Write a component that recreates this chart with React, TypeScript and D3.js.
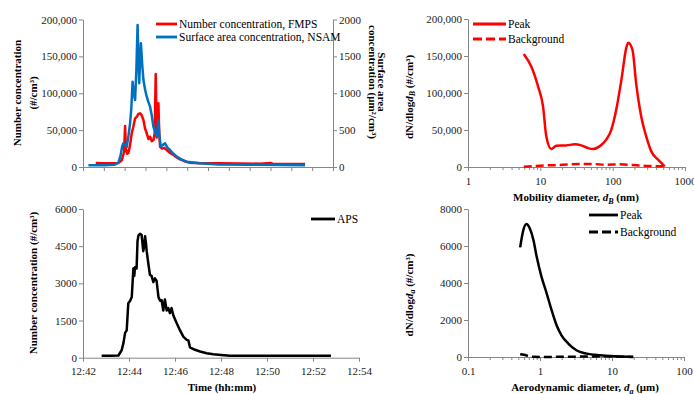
import React, { useEffect, useRef } from "react";
import * as d3 from "d3";

// time = minutes after 12:42
const fmpsTime = [0.61, 1.0, 1.4, 1.7, 1.86, 1.97, 2.02, 2.06, 2.12, 2.18, 2.26, 2.34, 2.42, 2.5, 2.58, 2.66, 2.74, 2.82, 2.9, 2.98, 3.06, 3.14, 3.22, 3.3, 3.38, 3.44, 3.49, 3.54, 3.58, 3.62, 3.66, 3.7, 3.8, 3.9, 4.02, 4.18, 4.34, 4.5, 4.66, 4.9, 5.14, 5.6, 6.5, 7.5, 8.5, 9.0, 9.1, 10.0, 10.66];
const fmpsNumber = [5400, 5000, 5200, 5500, 9000, 20000, 55600, 25000, 18000, 19000, 30000, 45700, 55000, 66000, 68000, 72000, 72800, 70000, 63700, 52000, 45700, 38000, 41100, 35000, 36600, 45000, 126100, 40000, 70000, 86400, 45000, 27500, 25000, 26000, 23000, 19000, 16300, 13000, 10400, 7500, 5800, 5000, 5000, 4800, 4500, 5500, 4500, 4200, 4000];

const nsamTime = [0.26, 1.0, 1.5, 1.7, 1.8, 1.88, 1.94, 2.02, 2.1, 2.18, 2.26, 2.32, 2.38, 2.44, 2.5, 2.56, 2.62, 2.66, 2.7, 2.74, 2.78, 2.84, 2.9, 2.98, 3.06, 3.14, 3.22, 3.3, 3.38, 3.46, 3.54, 3.58, 3.62, 3.66, 3.73, 3.84, 3.94, 4.06, 4.18, 4.34, 4.5, 4.74, 4.98, 5.3, 5.62, 6.5, 8.0, 9.5, 10.66];
const nsamSurface = [25, 25, 30, 60, 150, 280, 321, 300, 275, 420, 592, 800, 1157, 1000, 908, 1300, 1925, 1500, 1135, 1450, 1677, 1400, 1180, 1050, 953, 880, 818, 700, 546, 480, 411, 520, 637, 450, 275, 300, 321, 260, 230, 180, 140, 100, 72, 60, 50, 35, 30, 28, 25];

const apsTime = [0.81, 1.2, 1.54, 1.68, 1.76, 1.83, 1.9, 1.97, 2.05, 2.12, 2.19, 2.23, 2.26, 2.33, 2.37, 2.41, 2.48, 2.55, 2.62, 2.66, 2.7, 2.74, 2.77, 2.84, 2.91, 2.98, 3.06, 3.13, 3.2, 3.28, 3.35, 3.42, 3.49, 3.56, 3.64, 3.71, 3.78, 3.85, 3.93, 4.07, 4.22, 4.36, 4.51, 4.58, 4.65, 4.87, 5.09, 5.38, 5.67, 6.0, 6.39, 8.0, 10.78];
const apsNumber = [80, 80, 90, 300, 600, 1000, 1100, 2200, 2300, 2450, 3600, 3300, 3650, 3600, 4700, 4924, 5000, 4950, 4300, 4500, 4900, 4600, 4300, 3800, 3340, 3300, 3050, 3200, 3100, 2450, 2300, 2320, 1900, 2350, 1900, 2000, 1800, 2000, 1700, 1400, 1100, 850, 720, 700, 420, 320, 250, 180, 140, 110, 80, 80, 80];

const mobilityDiameter = [5.9, 7.5, 9.3, 10.9, 12.1, 14.2, 16.6, 22.8, 29.9, 36.8, 45.5, 53.4, 65.9, 81.5, 95.7, 112, 132, 155, 164, 188, 211, 248, 291, 342, 424, 497, 525];
const mobilityPeak = [152800, 135700, 108800, 81800, 41300, 24300, 28800, 29200, 30600, 29200, 25600, 24300, 27900, 36900, 50300, 77300, 117800, 162000, 168000, 158200, 113300, 68300, 41300, 21100, 9900, 3100, 900];
const mobilityBgDiameter = [5.9, 10, 18.5, 35, 53, 81, 125, 190, 325, 525];
const mobilityBackground = [200, 1800, 2700, 4000, 4000, 3100, 3600, 2700, 1300, 900];

const aeroDiameter = [0.53, 0.587, 0.65, 0.72, 0.81, 0.9, 1.05, 1.24, 1.45, 1.7, 1.99, 2.47, 3.2, 4.45, 6.8, 11.6, 19.7];
const aeroPeak = [5925, 6862, 7187, 6954, 6320, 5416, 4333, 3430, 2530, 1717, 1175, 726, 363, 184, 92, 38, 10];
const aeroBgDiameter = [0.53, 0.6, 0.7, 0.8, 1.0, 2.0, 5.0, 8.0, 12, 19.7];
const aeroBackground = [150, 120, 50, 10, 5, 10, 30, 40, 20, 5];

const numberTicks = [0, 50000, 100000, 150000, 200000];
const surfaceTicks = [0, 500, 1000, 1500, 2000];
const apsTicks = [0, 1500, 3000, 4500, 6000];
const aeroYTicks = [0, 2000, 4000, 6000, 8000];
const mobilityXTicks = [1, 10, 100, 1000];
const aeroXTicks = [0.1, 1, 10, 100];
const timeTicks = ["12:42", "12:44", "12:46", "12:48", "12:50", "12:52", "12:54"];

const font = "'Liberation Serif', serif";
const axisGrey = "#868686";

export default function App() {
    const ref = useRef<SVGSVGElement>(null);

    useEffect(() => {
        const svg = d3.select(ref.current);
        svg.selectAll("*").remove();

        const parseTime = d3.timeParse("%H:%M");
        const t0 = parseTime("12:42") as Date;
        const toDate = (m: number) => new Date(t0.getTime() + m * 60000);
        const timeDates = timeTicks.map(s => parseTime(s) as Date);

        const styleAxis = (g: any) => {
            g.attr("font-family", null).attr("font-size", null);
            g.style("font-family", font).style("font-size", "11px");
            g.select(".domain").attr("stroke", axisGrey);
            g.selectAll(".tick line").attr("stroke", axisGrey);
            g.selectAll(".tick text").attr("fill", "#1a1a1a");
        };

        const logMinors = (lo: number, hi: number) => {
            const out: number[] = [];
            for (let dec = lo; dec < hi; dec *= 10) {
                for (let k = 2; k <= 9; k++) out.push(dec * k);
            }
            return out;
        };

        const boldText = (sel: any) => sel
            .style("font-family", font).style("font-weight", "bold").style("font-size", "11px");

        const rotTitle = (x: number, y: number, angle: number, lines: string[], gap: number) => {
            lines.forEach((s, i) => {
                const dx = angle < 0 ? x + i * gap : x - i * gap;
                svg.append("text")
                    .attr("transform", `translate(${dx},${y}) rotate(${angle})`)
                    .attr("text-anchor", "middle")
                    .attr("dominant-baseline", "central")
                    .call(boldText)
                    .text(s);
            });
        };

        const legendItem = (x1: number, x2: number, y: number, color: string, dash: string | null, label: string) => {
            svg.append("line")
                .attr("x1", x1).attr("x2", x2).attr("y1", y).attr("y2", y)
                .attr("stroke", color).attr("stroke-width", 2.8)
                .attr("stroke-dasharray", dash);
            svg.append("text")
                .attr("x", x2 + 2).attr("y", y + 4)
                .style("font-family", font).style("font-size", "11.5px")
                .text(label);
        };

        // ---------- panel 1: time series FMPS / NSAM ----------
        const x1 = d3.scaleTime().domain([timeDates[0], timeDates[6]]).range([83, 333]);
        const y1 = d3.scaleLinear().domain([0, 200000]).range([167, 19.5]);
        const y1r = d3.scaleLinear().domain([0, 2000]).range([167, 19.5]);

        svg.append("g").attr("transform", "translate(0,167)")
            .call(d3.axisBottom(x1).tickValues(d3.range(0, 13).map(toDate)).tickFormat(() => "").tickSize(4).tickSizeOuter(0))
            .call(styleAxis);
        svg.append("g").attr("transform", "translate(83,0)")
            .call(d3.axisLeft(y1).tickValues(numberTicks).tickFormat(d3.format(",")).tickSize(4).tickPadding(2).tickSizeOuter(0))
            .call(styleAxis);
        svg.append("g").attr("transform", "translate(333,0)")
            .call(d3.axisRight(y1r).tickValues(surfaceTicks).tickFormat(d3.format("d")).tickSize(4).tickPadding(2).tickSizeOuter(0))
            .call(styleAxis);

        const fmpsLine = d3.line<[number, number]>().x(d => x1(toDate(d[0]))).y(d => y1(d[1]));
        const nsamLine = d3.line<[number, number]>().x(d => x1(toDate(d[0]))).y(d => y1r(d[1]));
        svg.append("path").datum(d3.zip(fmpsTime, fmpsNumber) as [number, number][])
            .attr("fill", "none").attr("stroke", "#ff0000").attr("stroke-width", 2.5)
            .attr("stroke-linejoin", "round").attr("d", fmpsLine);
        svg.append("path").datum(d3.zip(nsamTime, nsamSurface) as [number, number][])
            .attr("fill", "none").attr("stroke", "#0070c0").attr("stroke-width", 2.5)
            .attr("stroke-linejoin", "round").attr("d", nsamLine);

        legendItem(156, 177, 24, "#ff0000", null, "Number concentration, FMPS");
        legendItem(156, 177, 37, "#0070c0", null, "Surface area concentration, NSAM");

        rotTitle(17, 93, -90, ["Number  concentration", "(#/cm³)"], 16);
        rotTitle(381.5, 82, 90, ["Surface area", "concentration (μm²/cm³)"], 9);

        // ---------- panel 2: mobility size distribution ----------
        const x2 = d3.scaleLog().domain([1, 1000]).range([468, 685]);
        const y2 = d3.scaleLinear().domain([0, 200000]).range([167, 19]);

        svg.append("g").attr("transform", "translate(0,167)")
            .call(d3.axisBottom(x2).tickValues(logMinors(1, 1000)).tickFormat(() => "").tickSize(3).tickSizeOuter(0))
            .call(styleAxis);
        svg.append("g").attr("transform", "translate(0,167)")
            .call(d3.axisBottom(x2).tickValues(mobilityXTicks).tickFormat(d => String(d)).tickSize(4).tickPadding(6).tickSizeOuter(0))
            .call(styleAxis);
        svg.append("g").attr("transform", "translate(468,0)")
            .call(d3.axisLeft(y2).tickValues(numberTicks).tickFormat(d3.format(",")).tickSize(4).tickPadding(2).tickSizeOuter(0))
            .call(styleAxis);

        const sizeLine2 = d3.line<[number, number]>().x(d => x2(d[0])).y(d => y2(d[1])).curve(d3.curveMonotoneX);
        svg.append("path").datum(d3.zip(mobilityBgDiameter, mobilityBackground) as [number, number][])
            .attr("fill", "none").attr("stroke", "#ff0000").attr("stroke-width", 2.5)
            .attr("stroke-dasharray", "8,4").attr("d", sizeLine2);
        svg.append("path").datum(d3.zip(mobilityDiameter, mobilityPeak) as [number, number][])
            .attr("fill", "none").attr("stroke", "#ff0000").attr("stroke-width", 2.5).attr("d", sizeLine2);

        legendItem(473, 506, 24, "#ff0000", null, "Peak");
        legendItem(473, 506, 39, "#ff0000", "9,4", "Background");

        const yt2 = svg.append("text")
            .attr("transform", "translate(409,97) rotate(-90)")
            .attr("text-anchor", "middle").attr("dominant-baseline", "central")
            .call(boldText);
        yt2.append("tspan").text("dN/dlog");
        yt2.append("tspan").style("font-style", "italic").text("d");
        yt2.append("tspan").style("font-style", "italic").style("font-size", "8px").attr("dy", 3).text("B");
        yt2.append("tspan").attr("dy", -3).text(" (#/cm³)");

        const xt2 = svg.append("text")
            .attr("x", 576).attr("y", 201).attr("text-anchor", "middle")
            .call(boldText);
        xt2.append("tspan").text("Mobility diameter, ");
        xt2.append("tspan").style("font-style", "italic").text("d");
        xt2.append("tspan").style("font-style", "italic").style("font-size", "8px").attr("dy", 3).text("B");
        xt2.append("tspan").attr("dy", -3).text(" (nm)");

        // ---------- panel 3: APS time series ----------
        const x3 = d3.scaleTime().domain([timeDates[0], timeDates[6]]).range([83, 359]);
        const y3 = d3.scaleLinear().domain([0, 6000]).range([357.7, 209]);

        svg.append("g").attr("transform", "translate(0,357.7)")
            .call(d3.axisBottom(x3).tickValues(timeDates).tickFormat(d3.timeFormat("%H:%M") as any).tickSize(4).tickPadding(6).tickSizeOuter(0))
            .call(styleAxis);
        svg.append("g").attr("transform", "translate(83,0)")
            .call(d3.axisLeft(y3).tickValues(apsTicks).tickFormat(d3.format("d")).tickSize(4).tickPadding(2).tickSizeOuter(0))
            .call(styleAxis);

        const apsLine = d3.line<[number, number]>().x(d => x3(toDate(d[0]))).y(d => y3(d[1]));
        svg.append("path").datum(d3.zip(apsTime, apsNumber) as [number, number][])
            .attr("fill", "none").attr("stroke", "#000").attr("stroke-width", 2.5)
            .attr("stroke-linejoin", "round").attr("d", apsLine);

        legendItem(311, 335, 219, "#000", null, "APS");
        rotTitle(33, 283, -90, ["Number  concentration  (#/cm³)"], 0);

        svg.append("text").attr("x", 222).attr("y", 391).attr("text-anchor", "middle")
            .call(boldText)
            .text("Time (hh:mm)");

        // ---------- panel 4: aerodynamic size distribution ----------
        const x4 = d3.scaleLog().domain([0.1, 100]).range([468, 684]);
        const y4 = d3.scaleLinear().domain([0, 8000]).range([357, 209]);

        svg.append("g").attr("transform", "translate(0,357)")
            .call(d3.axisBottom(x4).tickValues(logMinors(0.1, 100)).tickFormat(() => "").tickSize(3).tickSizeOuter(0))
            .call(styleAxis);
        svg.append("g").attr("transform", "translate(0,357)")
            .call(d3.axisBottom(x4).tickValues(aeroXTicks).tickFormat(d => String(d)).tickSize(4).tickPadding(6).tickSizeOuter(0))
            .call(styleAxis);
        svg.append("g").attr("transform", "translate(468,0)")
            .call(d3.axisLeft(y4).tickValues(aeroYTicks).tickFormat(d3.format("d")).tickSize(4).tickPadding(2).tickSizeOuter(0))
            .call(styleAxis);

        const sizeLine4 = d3.line<[number, number]>().x(d => x4(d[0])).y(d => y4(d[1])).curve(d3.curveMonotoneX);
        svg.append("path").datum(d3.zip(aeroBgDiameter, aeroBackground) as [number, number][])
            .attr("fill", "none").attr("stroke", "#000").attr("stroke-width", 2.5)
            .attr("stroke-dasharray", "8,4").attr("d", sizeLine4);
        svg.append("path").datum(d3.zip(aeroDiameter, aeroPeak) as [number, number][])
            .attr("fill", "none").attr("stroke", "#000").attr("stroke-width", 2.5).attr("d", sizeLine4);

        legendItem(589, 618, 215, "#000", null, "Peak");
        legendItem(589, 618, 232, "#000", "9,4", "Background");

        const yt4 = svg.append("text")
            .attr("transform", "translate(409,295) rotate(-90)")
            .attr("text-anchor", "middle").attr("dominant-baseline", "central")
            .call(boldText);
        yt4.append("tspan").text("dN/dlog");
        yt4.append("tspan").style("font-style", "italic").text("d");
        yt4.append("tspan").style("font-style", "italic").style("font-size", "8px").attr("dy", 3).text("a");
        yt4.append("tspan").attr("dy", -3).text(" (#/cm³)");

        const xt4 = svg.append("text")
            .attr("x", 585).attr("y", 391).attr("text-anchor", "middle")
            .call(boldText);
        xt4.append("tspan").text("Aerodynamic diameter, ");
        xt4.append("tspan").style("font-style", "italic").text("d");
        xt4.append("tspan").style("font-style", "italic").style("font-size", "8px").attr("dy", 3).text("a");
        xt4.append("tspan").attr("dy", -3).text(" (μm)");
    }, []);

    return (
        <div style={{ position: "absolute", left: 0, top: 0 }}>
            <svg ref={ref} width={694} height={394} style={{ display: "block", background: "#fff" }} />
        </div>
    );
}
